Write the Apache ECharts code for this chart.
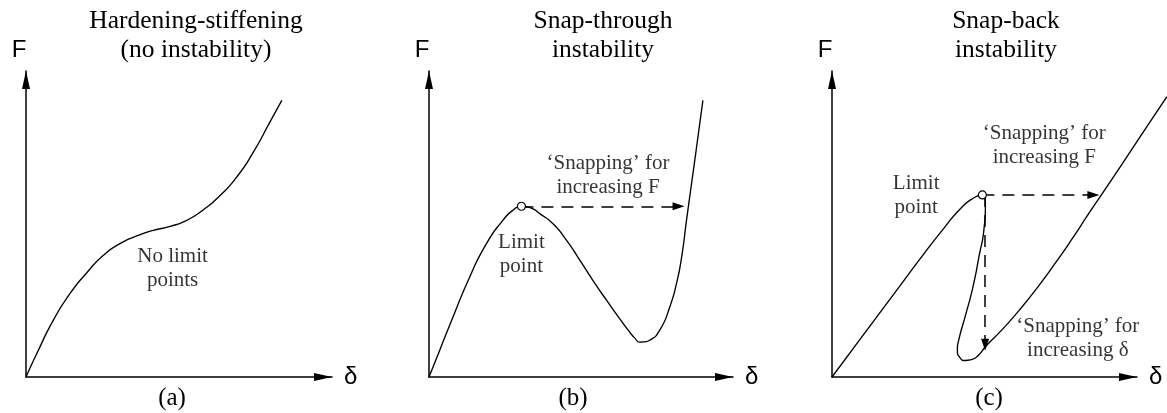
<!DOCTYPE html>
<html><head><meta charset="utf-8">
<script src="https://cdn.jsdelivr.net/npm/echarts@6/dist/echarts.min.js"></script>
<style>html,body{margin:0;padding:0;background:#fff}#c{width:1167px;height:413px}</style>
</head><body><div id="c"></div>
<script>
// ---- data (abstract units: each axis runs 0..10 up to its arrow tip) ----
const deltaA = [0, 0.35, 0.89, 1.44, 1.98, 2.53, 3.07, 3.62, 4.16, 4.71, 5.25, 5.79, 6.34, 6.89, 7.43, 7.97, 8.36];
const forceA = [0, 0.76, 1.85, 2.73, 3.40, 3.98, 4.36, 4.61, 4.79, 4.92, 5.12, 5.46, 5.93, 6.54, 7.35, 8.33, 9.04];

const deltaB = [0, 0.35, 0.79, 1.34, 1.89, 2.43, 2.76, 3.04, 3.36, 3.64, 4.08, 4.52, 4.96, 5.39, 5.84, 6.27, 6.60, 6.77, 6.93, 7.10, 7.26, 7.59, 7.92, 8.14, 8.31, 8.47, 8.62, 8.80, 9.01];
const forceB = [0, 0.87, 1.96, 3.27, 4.36, 5.12, 5.45, 5.58, 5.52, 5.34, 5.01, 4.47, 3.82, 3.16, 2.51, 1.91, 1.47, 1.27, 1.14, 1.15, 1.20, 1.53, 2.29, 3.05, 3.92, 5.12, 6.20, 7.50, 9.04];

const deltaC = [0, 1.04, 2.13, 3.00, 3.66, 4.21, 4.64, 4.92, 5.03, 4.98, 4.83, 4.62, 4.37, 4.17, 4.11, 4.19, 4.37, 4.57, 4.80, 5.03, 5.57, 6.12, 6.77, 7.32, 7.87, 8.41, 8.96, 9.51, 10.16, 10.98];
const forceC = [0, 1.39, 2.85, 4.01, 4.85, 5.50, 5.85, 5.95, 5.62, 4.81, 3.99, 2.94, 1.99, 1.27, 0.88, 0.64, 0.54, 0.57, 0.71, 0.99, 1.54, 2.16, 2.97, 3.72, 4.51, 5.33, 6.14, 6.96, 7.94, 9.16];

const limitB = [3.04, 5.58];
const limitC = [4.93, 5.95];
const snapB = [[[3.04, 5.58], [8.21, 5.58]]];
const snapC = [[[4.93, 5.95], [8.57, 5.95]], [[5.02, 5.95], [5.02, 1.05]]];

const panelTitles = ['Hardening-stiffening\n(no instability)', 'Snap-through\ninstability', 'Snap-back\ninstability'];
const captions = ['(a)', '(b)', '(c)'];
const axisNameX = 'δ';
const axisNameY = 'F';
const notesA = ['No limit\npoints'];
const notesB = ['Limit\npoint', '‘Snapping’ for\nincreasing F'];
const notesC = ['Limit\npoint', '‘Snapping’ for\nincreasing F', '‘Snapping’ for\nincreasing δ'];
const noteAtA = [[4.79, 3.53]];
const noteAtB = [[3.04, 4.00], [5.89, 6.60]];
const noteAtC = [[2.76, 5.92], [6.96, 7.56], [8.06, 1.27]];

// ---- layout ----
// grid 0: (a), grid 1: (b), grid 2: (c) plot area (extends to the page edge),
// grid 3: the visible δ axis of (c)
const grids = [
  {left: 26, top: 71, width: 306, height: 306},
  {left: 429, top: 71, width: 304, height: 306},
  {left: 832, top: 71, width: 335.5, height: 306},
  {left: 832, top: 71, width: 305, height: 306}
];
const xMax = [10, 10, 11, 10];
const showX = [true, true, false, true];
const showY = [true, true, true, false];
const titleX = [196, 603, 1006];
const captionX = [172, 573, 989];

const SERIF = '"Liberation Serif", "Times New Roman", serif';
const SANS = '"Liberation Sans", Arial, sans-serif';

function axis(i, name, isY, max, show) {
  return {
    type: 'value', gridIndex: i, min: 0, max: max, show: show,
    name: name, nameLocation: 'end', nameGap: isY ? 9 : 12,
    nameTextStyle: {fontFamily: SANS, fontSize: 24, color: '#000',
      padding: isY ? [0, 14, 0, 0] : 0},
    axisLine: {show: show, onZero: false, symbol: ['none', 'triangle'], symbolSize: [8, 18], symbolOffset: [0, -9],
      lineStyle: {color: '#000', width: 1.5}},
    axisTick: {show: false}, axisLabel: {show: false}, splitLine: {show: false}
  };
}
function curve(i, dx, fy) {
  return {type: 'line', xAxisIndex: i, yAxisIndex: i, data: dx.map((d, k) => [d, fy[k]]),
    smooth: 0.6, symbol: 'none', showSymbol: false, clip: false, silent: true, z: 2,
    lineStyle: {color: '#000', width: 1.35}};
}
function arrows(i, segs) {
  return {type: 'lines', coordinateSystem: 'cartesian2d', xAxisIndex: i, yAxisIndex: i,
    data: segs.map(s => ({coords: s})), symbol: ['none', 'triangle'], symbolSize: [1, [8, 12]],
    silent: true, z: 3,
    lineStyle: {color: '#000', width: 1.5, type: [12, 8], opacity: 1, curveness: 0}};
}
function marker(i, p) {
  return {type: 'scatter', xAxisIndex: i, yAxisIndex: i, data: [p], symbol: 'circle', symbolSize: 8,
    silent: true, z: 5, itemStyle: {color: '#fff', borderColor: '#000', borderWidth: 1.2, opacity: 1}};
}
function notes(i, texts, at) {
  return {type: 'scatter', xAxisIndex: i, yAxisIndex: i, silent: true, z: 6,
    data: at.map((p, k) => ({value: p, name: texts[k]})), symbolSize: 1,
    itemStyle: {color: 'rgba(0,0,0,0)'},
    label: {show: true, position: 'inside', formatter: p => p.name, fontFamily: SERIF,
      fontSize: 21, lineHeight: 24, color: '#000', align: 'center', verticalAlign: 'middle'}};
}

const graphic = [];
panelTitles.forEach((t, i) => graphic.push({type: 'text', x: titleX[i], y: 36, silent: true,
  style: {text: t, fontFamily: SERIF, fontSize: 25.5, lineHeight: 29, fill: '#000', textAlign: 'center', textVerticalAlign: 'middle'}}));
captions.forEach((t, i) => graphic.push({type: 'text', x: captionX[i], y: 398, silent: true,
  style: {text: t, fontFamily: SERIF, fontSize: 25, fill: '#000', textAlign: 'center', textVerticalAlign: 'middle'}}));

const option = {
  backgroundColor: '#fff',
  animation: false,
  grid: grids.map(g => Object.assign({outerBoundsMode: 'none', containLabel: false}, g)),
  xAxis: grids.map((g, i) => axis(i, axisNameX, false, xMax[i], showX[i])),
  yAxis: grids.map((g, i) => axis(i, axisNameY, true, 10, showY[i])),
  graphic: graphic,
  series: [
    curve(0, deltaA, forceA),
    curve(1, deltaB, forceB),
    curve(2, deltaC, forceC),
    arrows(1, snapB),
    arrows(2, snapC),
    marker(1, limitB),
    marker(2, limitC),
    notes(0, notesA, noteAtA),
    notes(1, notesB, noteAtB),
    notes(2, notesC, noteAtC)
  ]
};
const chart = echarts.init(document.getElementById('c'), null, {renderer: 'canvas'});
chart.setOption(option);
</script></body></html>
